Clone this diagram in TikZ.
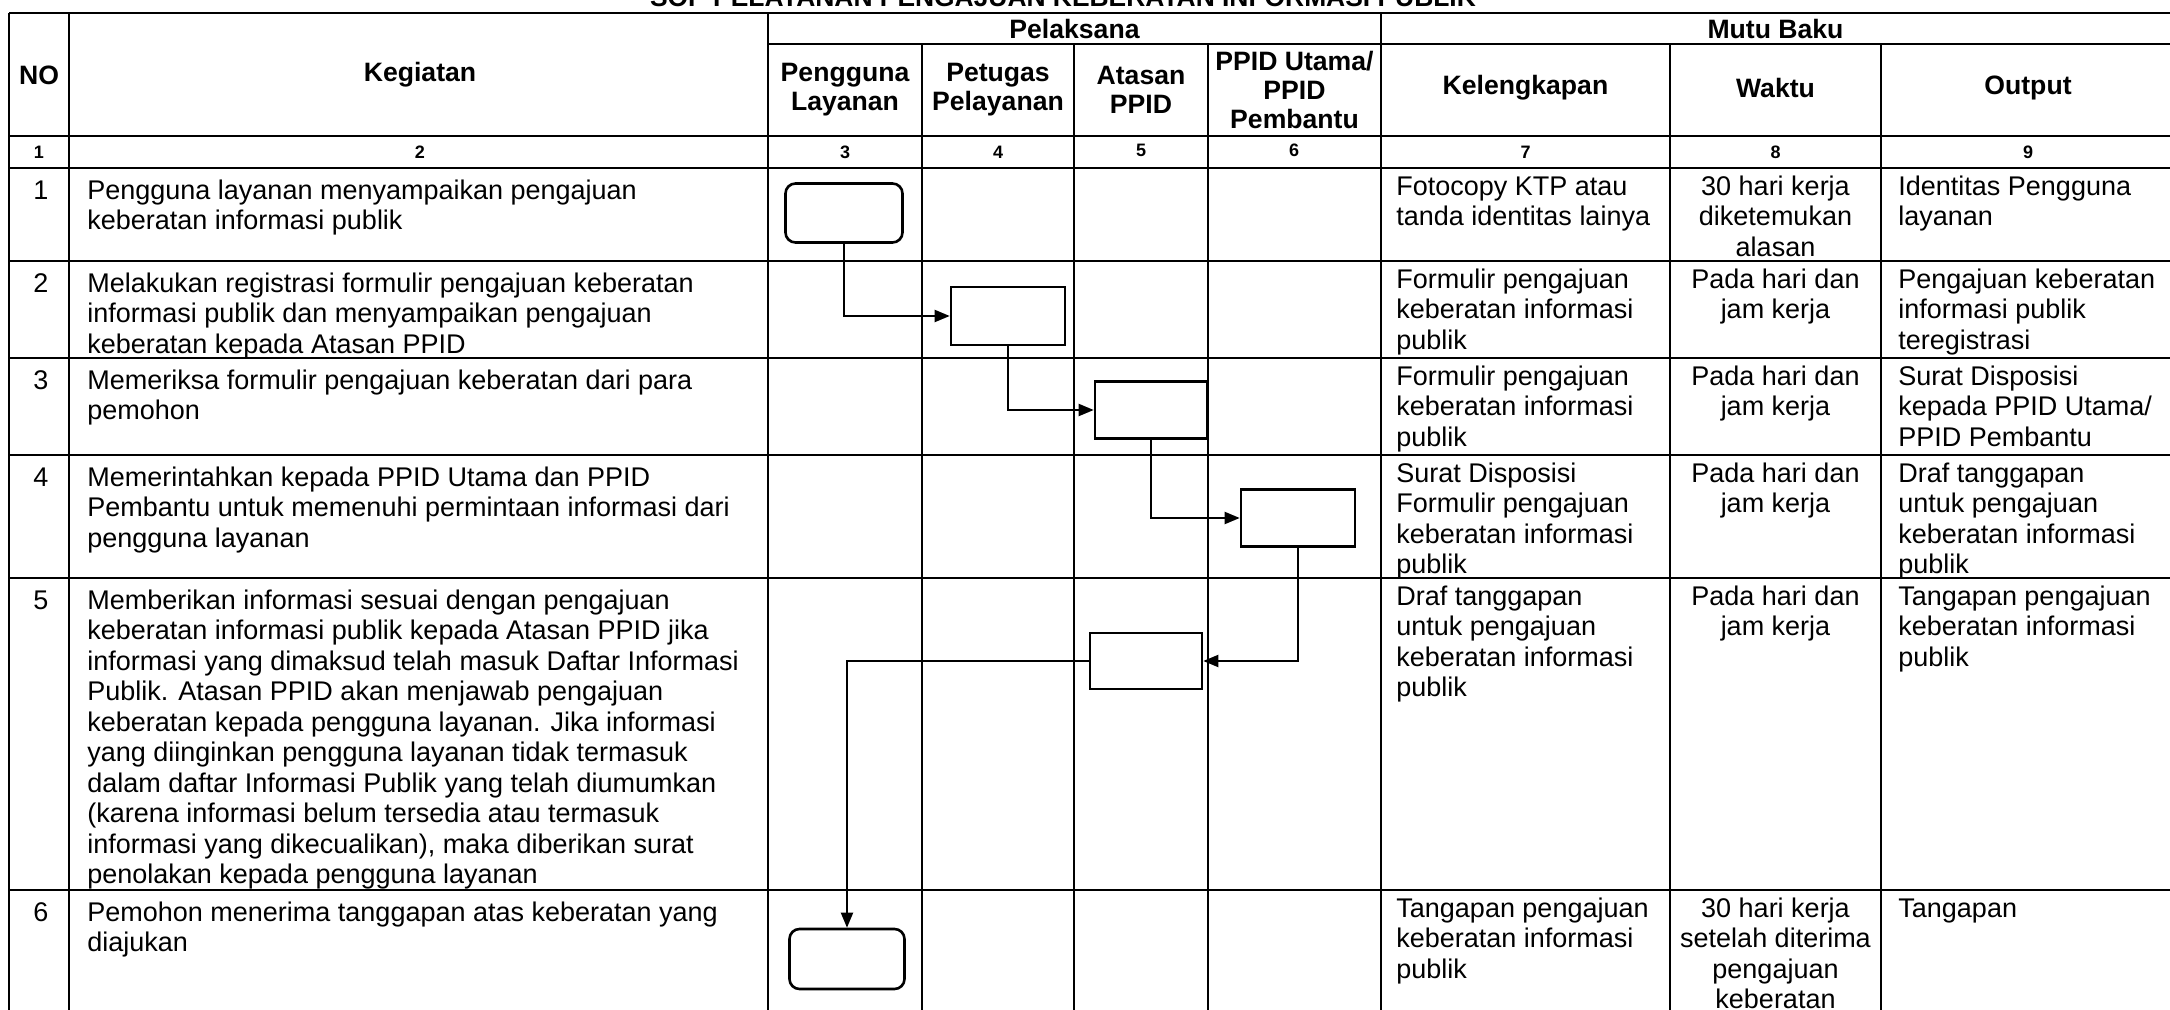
\documentclass[tikz,border=0pt]{standalone}
\usepackage{fontspec}
\setmainfont{Liberation Sans}
\usetikzlibrary{arrows.meta}
\begin{document}
\begin{tikzpicture}[x=0.5pt,y=-0.5pt,
  hline/.style={line width=1.4pt},
  vline/.style={line width=0.9pt},
  cellL/.style={inner sep=0pt, font=\fontsize{13.5pt}{15.25pt}\selectfont, align=left, anchor=north west},
  cellC/.style={inner sep=0pt, font=\fontsize{13.5pt}{15.25pt}\selectfont, align=center, anchor=north},
  hdrtxt/.style={inner sep=0pt, font=\bfseries\fontsize{13.3pt}{14.5pt}\selectfont, align=center},
  numtxt/.style={inner sep=0pt, font=\bfseries\fontsize{9pt}{10pt}\selectfont},
  procbox/.style={draw, line width=1.3pt, inner sep=0pt},
  conn/.style={line width=1pt, -{Triangle[length=7.5pt,width=6pt]}}
]
\useasboundingbox (0,0) rectangle (2170,1010);
\clip (0,0) rectangle (2170,1010);
\fill[white] (0,0) rectangle (2170,1010);

% title (cut by the top edge)
\node[inner sep=0pt, anchor=base, font=\bfseries\fontsize{13.2pt}{15pt}\selectfont] (title) at (1063,6.5) {SOP PELAYANAN PENGAJUAN KEBERATAN INFORMASI PUBLIK};

% table grid
\draw[hline] (9,13) -- (2180,13);
\draw[hline] (768,44) -- (2180,44);
\foreach \y in {136,168,261,358,455,578,890} \draw[hline] (9,\y) -- (2180,\y);
\foreach \x in {9,69,768,1381} \draw[vline] (\x,13) -- (\x,1015);
\foreach \x in {922,1074,1208,1670,1881} \draw[vline] (\x,44) -- (\x,1015);

% headers
\node[hdrtxt] (hNO) at (39,75) {NO};
\node[hdrtxt] (hKeg) at (420,75) {Kegiatan};
\node[hdrtxt] (hPel) at (1074.5,29) {Pelaksana};
\node[hdrtxt] (hMutu) at (1775.5,29) {Mutu Baku};
\node[hdrtxt] (hPeng) at (845,90) {Pengguna\\Layanan};
\node[hdrtxt] (hPet) at (998,90) {Petugas\\Pelayanan};
\node[hdrtxt] (hAts) at (1141,90) {Atasan\\PPID};
\node[hdrtxt] (hPPID) at (1294.5,90) {PPID Utama/\\PPID\\Pembantu};
\node[hdrtxt] (hKel) at (1525.5,88) {Kelengkapan};
\node[hdrtxt] (hWak) at (1775.5,88) {Waktu};
\node[hdrtxt] (hOut) at (2028,88) {Output};

% column numbers
\node[numtxt] (c1) at (39,152) {1};
\node[numtxt] (c2) at (420,152) {2};
\node[numtxt] (c3) at (845,152) {3};
\node[numtxt] (c4) at (998,152) {4};
\node[numtxt] (c5) at (1141,150) {5};
\node[numtxt] (c6) at (1294,150) {6};
\node[numtxt] (c7) at (1525.5,152) {7};
\node[numtxt] (c8) at (1775.5,152) {8};
\node[numtxt] (c9) at (2028,152) {9};

% row 1
\node[cellC] (n1) at (41,177.6) {\strut 1};
\node[cellL] (k1) at (87,177.6) {\strut Pengguna layanan menyampaikan pengajuan\\keberatan informasi publik};
\node[cellL] (kl1) at (1396,173.6) {\strut Fotocopy KTP atau\\tanda identitas lainya};
\node[cellC] (w1) at (1775.5,173.6) {\strut 30 hari kerja\\diketemukan\\alasan};
\node[cellL] (o1) at (1898,173.6) {\strut Identitas Pengguna\\layanan};

% row 2
\node[cellC] (n2) at (41,270.6) {\strut 2};
\node[cellL] (k2) at (87,270.6) {\strut Melakukan registrasi formulir pengajuan keberatan\\informasi publik dan menyampaikan pengajuan\\keberatan kepada Atasan PPID};
\node[cellL] (kl2) at (1396,266.6) {\strut Formulir pengajuan\\keberatan informasi\\publik};
\node[cellC] (w2) at (1775.5,266.6) {\strut Pada hari dan\\jam kerja};
\node[cellL] (o2) at (1898,266.6) {\strut Pengajuan keberatan\\informasi publik\\teregistrasi};

% row 3
\node[cellC] (n3) at (41,367.6) {\strut 3};
\node[cellL] (k3) at (87,367.6) {\strut Memeriksa formulir pengajuan keberatan dari para\\pemohon};
\node[cellL] (kl3) at (1396,363.6) {\strut Formulir pengajuan\\keberatan informasi\\publik};
\node[cellC] (w3) at (1775.5,363.6) {\strut Pada hari dan\\jam kerja};
\node[cellL] (o3) at (1898,363.6) {\strut Surat Disposisi\\kepada PPID Utama/\\PPID Pembantu};

% row 4
\node[cellC] (n4) at (41,464.6) {\strut 4};
\node[cellL] (k4) at (87,464.6) {\strut Memerintahkan kepada PPID Utama dan PPID\\Pembantu untuk memenuhi permintaan informasi dari\\pengguna layanan};
\node[cellL] (kl4) at (1396,460.6) {\strut Surat Disposisi\\Formulir pengajuan\\keberatan informasi\\publik};
\node[cellC] (w4) at (1775.5,460.6) {\strut Pada hari dan\\jam kerja};
\node[cellL] (o4) at (1898,460.6) {\strut Draf tanggapan\\untuk pengajuan\\keberatan informasi\\publik};

% row 5
\node[cellC] (n5) at (41,587.6) {\strut 5};
\node[cellL] (k5) at (87,587.6) {\strut Memberikan informasi sesuai dengan pengajuan\\keberatan informasi publik kepada Atasan PPID jika\\informasi yang dimaksud telah masuk Daftar Informasi\\Publik. Atasan PPID akan menjawab pengajuan\\keberatan kepada pengguna layanan. Jika informasi\\yang diinginkan pengguna layanan tidak termasuk\\dalam daftar Informasi Publik yang telah diumumkan\\(karena informasi belum tersedia atau termasuk\\informasi yang dikecualikan), maka diberikan surat\\penolakan kepada pengguna layanan};
\node[cellL] (kl5) at (1396,583.6) {\strut Draf tanggapan\\untuk pengajuan\\keberatan informasi\\publik};
\node[cellC] (w5) at (1775.5,583.6) {\strut Pada hari dan\\jam kerja};
\node[cellL] (o5) at (1898,583.6) {\strut Tangapan pengajuan\\keberatan informasi\\publik};

% row 6
\node[cellC] (n6) at (41,899.6) {\strut 6};
\node[cellL] (k6) at (87,899.6) {\strut Pemohon menerima tanggapan atas keberatan yang\\diajukan};
\node[cellL] (kl6) at (1396,895.6) {\strut Tangapan pengajuan\\keberatan informasi\\publik};
\node[cellC] (w6) at (1775.5,895.6) {\strut 30 hari kerja\\setelah diterima\\pengajuan\\keberatan};
\node[cellL] (o6) at (1898,895.6) {\strut Tangapan};

% flow boxes
\node[procbox, rounded corners=5pt, minimum width=58.5pt, minimum height=29.5pt] (b1) at (844,213) {};
\node[procbox, minimum width=57pt, minimum height=29pt] (b2) at (1008,316) {};
\node[procbox, minimum width=56pt, minimum height=28.5pt] (b3) at (1151,410) {};
\node[procbox, minimum width=57pt, minimum height=28.5pt] (b4) at (1298,518) {};
\node[procbox, minimum width=56pt, minimum height=28pt] (b5) at (1146,661) {};
\node[procbox, rounded corners=5pt, minimum width=57.5pt, minimum height=30pt] (b6) at (847,959) {};

% connectors
\draw[conn] (b1.south) |- (b2.west);
\draw[conn] (b2.south) |- (b3.west);
\draw[conn] (b3.south) |- (b4.west);
\draw[conn] (b4.south) |- (b5.east);
\draw[conn] (b5.west) -| (b6.north);
\end{tikzpicture}
\end{document}
